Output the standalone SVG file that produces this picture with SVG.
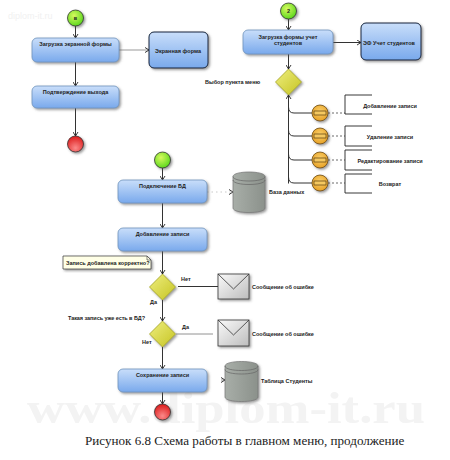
<svg xmlns="http://www.w3.org/2000/svg" width="450" height="460" viewBox="0 0 450 460">
<style>
text{font-family:"Liberation Sans",Arial,sans-serif;font-size:5.5px;font-weight:bold;fill:#222}
.m{text-anchor:middle}
.box{fill:url(#blue);stroke:#6f93bd;stroke-width:.8;filter:url(#sh)}
.box2{fill:url(#blue);stroke:#14233c;stroke-width:1;filter:url(#sh)}
.ln{fill:none;stroke:#333;stroke-width:1}
.dash{fill:none;stroke:#444;stroke-width:.8;stroke-dasharray:2 2}
.br{fill:none;stroke:#222;stroke-width:.9}
.start{fill:url(#green);stroke:#333;stroke-width:.8;filter:url(#sh)}
.end{fill:url(#red);stroke:#333;stroke-width:.8;filter:url(#sh)}
.dia{fill:url(#yellow);stroke:#a5a520;stroke-width:.8;filter:url(#sh)}
.or{fill:url(#orange);stroke:#6b4a10;stroke-width:.8;filter:url(#sh)}
.env{fill:url(#gray);stroke:#333;stroke-width:.8;filter:url(#sh)}
.db{fill:url(#dbg);stroke:#777;stroke-width:.7;filter:url(#sh)}
.wm{font-family:"Liberation Serif",serif;font-weight:bold;font-size:44px;fill:#f3f3f3}
.cap{font-family:"Liberation Serif",serif;font-weight:normal;font-size:13.1px;fill:#222}
</style>
<defs>
<linearGradient id="blue" x1="0" y1="0" x2="0" y2="1"><stop offset="0" stop-color="#c9defa"/><stop offset="1" stop-color="#79a9ec"/></linearGradient>
<radialGradient id="green" cx=".4" cy=".35" r=".7"><stop offset="0" stop-color="#d6f95e"/><stop offset="1" stop-color="#55d61a"/></radialGradient>
<radialGradient id="red" cx=".5" cy=".75" r=".7"><stop offset="0" stop-color="#fb8a8a"/><stop offset="1" stop-color="#de2020"/></radialGradient>
<linearGradient id="yellow" x1="0" y1="0" x2="1" y2="1"><stop offset="0" stop-color="#eeee80"/><stop offset="1" stop-color="#c6c422"/></linearGradient>
<radialGradient id="orange" cx=".5" cy=".4" r=".7"><stop offset="0" stop-color="#fbd06a"/><stop offset="1" stop-color="#e49a1c"/></radialGradient>
<linearGradient id="gray" x1="0" y1="0" x2="1" y2="1"><stop offset="0" stop-color="#fafafa"/><stop offset="1" stop-color="#bdbdbd"/></linearGradient>
<linearGradient id="dbg" x1="0" y1="0" x2="1" y2="0"><stop offset="0" stop-color="#a8aea8"/><stop offset="1" stop-color="#8b918b"/></linearGradient>
<filter id="sh" x="-20%" y="-20%" width="150%" height="150%"><feDropShadow dx="1.5" dy="1.5" stdDeviation=".8" flood-color="#555" flood-opacity=".6"/></filter>
<marker id="a" markerWidth="5" markerHeight="6" refX="4.5" refY="3" orient="auto" markerUnits="userSpaceOnUse"><path d="M0.5 0.5L4.5 3L0.5 5.5" fill="none" stroke="#222" stroke-width=".9"/></marker>
</defs>

<text x="8" y="19" style="font-size:9px;font-weight:normal;fill:#f1f1f1">diplom-it.ru</text>
<text x="27" y="423" class="wm" textLength="398" lengthAdjust="spacingAndGlyphs">www.diplom-it.ru</text>

<g id="connectors">
<path class="ln" d="M75.500 26V38" marker-end="url(#a)"/>
<path class="ln" d="M75.500 62V86" marker-end="url(#a)"/>
<path class="ln" d="M75.500 108V136" marker-end="url(#a)"/>
<path d="M119 50H149" fill="none" stroke="#999" stroke-width="1" marker-end="url(#a)"/>
<path class="ln" d="M288.500 19V30" marker-end="url(#a)"/>
<path class="ln" d="M288.500 54V69" marker-end="url(#a)"/>
<path class="ln" d="M333 42.500H361" marker-end="url(#a)"/>
<path class="ln" d="M288.500 183.500V95" marker-end="url(#a)"/>
<path class="ln" d="M288.500 107Q288.500 113 294 113H312M288.500 130Q288.500 136 294 136H312M288.500 154Q288.500 160 294 160H312M288.500 177Q288.500 183 294 183H312"/>
<path class="dash" d="M328 113H345M328 136H345M328 160H345M328 183H345"/>
<path class="ln" d="M162.500 168V180" marker-end="url(#a)"/>
<path class="ln" d="M162.500 203V228" marker-end="url(#a)"/>
<path class="ln" d="M162.500 251V274" marker-end="url(#a)"/>
<path class="ln" d="M162.500 300V321" marker-end="url(#a)"/>
<path class="ln" d="M162.500 347V369" marker-end="url(#a)"/>
<path class="ln" d="M162.500 391V404" marker-end="url(#a)"/>
<path d="M207 192H233" fill="none" stroke="#bbb" stroke-width=".8" stroke-dasharray="1.500 3" marker-end="url(#a)"/>
<path class="ln" d="M178 286.500H218"/>
<path d="M176 334H213" fill="none" stroke="#777" stroke-width=".8"/>
<path d="M221 380H225" fill="none" stroke="#666" stroke-width=".7" marker-end="url(#a)"/>
</g>

<g id="start1"><circle class="start" cx="75.500" cy="18" r="8"/><text x="75.500" y="20" class="m">в</text></g>
<g id="load-form"><rect class="box" x="32" y="38" width="87" height="24" rx="5"/><text x="75.500" y="46" class="m">Загрузка экранной формы</text></g>
<g id="screen-form"><rect class="box2" x="149" y="32" width="59" height="36" rx="5"/><text x="178" y="53" class="m">Экранная форма</text></g>
<g id="confirm"><rect class="box" x="32" y="86" width="87" height="22" rx="5"/><text x="75.500" y="93.500" class="m">Подтверждение выхода</text></g>
<g id="end1"><circle class="end" cx="75.500" cy="144" r="8"/></g>

<g id="start2"><circle class="start" cx="288.500" cy="11" r="8"/><text x="288.500" y="13" class="m">2</text></g>
<g id="load-students"><rect class="box" x="243" y="30" width="90" height="24" rx="5"/><text x="288" y="38.500" class="m">Загрузка формы учет</text><text x="288" y="45" class="m">студентов</text></g>
<g id="students-form"><rect class="box2" x="361" y="23" width="60" height="37" rx="5"/><text x="389" y="44.500" class="m">ЭФ  Учет студентов</text></g>
<g id="menu"><polygon class="dia" points="288.500,69 301.500,82 288.500,95 275.500,82"/><text x="205" y="84">Выбор пункта меню</text></g>

<g id="add"><circle class="or" cx="320" cy="113" r="8"/><rect x="314" y="111" width="12" height="4" fill="#f5c860" stroke="#5a3d0c" stroke-width=".7"/><path class="br" d="M372 95H345V114H372"/><text x="390" y="108" class="m">Добавление записи</text></g>
<g id="delete"><circle class="or" cx="320" cy="136" r="8"/><rect x="314" y="134" width="12" height="4" fill="#f5c860" stroke="#5a3d0c" stroke-width=".7"/><path class="br" d="M372 126H345V146H372"/><text x="390" y="139" class="m">Удаление записи</text></g>
<g id="edit"><circle class="or" cx="320" cy="160" r="8"/><rect x="314" y="158" width="12" height="4" fill="#f5c860" stroke="#5a3d0c" stroke-width=".7"/><path class="br" d="M372 150H345V170H372"/><text x="390" y="163" class="m">Редактирование записи</text></g>
<g id="back"><circle class="or" cx="320" cy="183" r="8"/><rect x="314" y="181" width="12" height="4" fill="#f5c860" stroke="#5a3d0c" stroke-width=".7"/><path class="br" d="M372 174H345V193H372"/><text x="390" y="186" class="m">Возврат</text></g>

<g id="start3"><circle class="start" cx="162.500" cy="160" r="8"/></g>
<g id="connect"><rect class="box" x="118" y="180" width="89" height="23" rx="5"/><text x="162.500" y="188" class="m">Подключение БД</text></g>
<g id="db"><path class="db" d="M233 176.500C233 170.500 265 170.500 265 176.500V208C265 214 233 214 233 208Z"/><path d="M233 176.500C233 182.500 265 182.500 265 176.500M233 180C233 186 265 186 265 180" fill="none" stroke="#666" stroke-width=".7"/><text x="269" y="194">База данных</text></g>
<g id="add-record"><rect class="box" x="118" y="228" width="89" height="23" rx="5"/><text x="162.500" y="235.500" class="m">Добавление записи</text></g>
<g id="note"><path d="M63 256H147L151 260V269H63Z" fill="#ffffe6" stroke="#333" stroke-width=".7" filter="url(#sh)"/><path d="M147 256V260H151" fill="none" stroke="#333" stroke-width=".6"/><text x="66" y="265">Запись добавлена корректно?</text></g>
<g id="check1"><polygon class="dia" points="162.500,274 175.500,287 162.500,300 149.500,287"/><text x="181" y="281">Нет</text><text x="150" y="304">Да</text></g>
<g id="err1"><rect class="env" x="218" y="274" width="31" height="25"/><path d="M218 274L233.500 289L249 274" fill="none" stroke="#333" stroke-width=".8"/><text x="252" y="289">Сообщение об ошибке</text></g>
<g id="check2"><polygon class="dia" points="162.500,321 175.500,334 162.500,347 149.500,334"/><text x="68" y="320" textLength="77">Такая запись уже есть в БД?</text><text x="182" y="329">Да</text><text x="142" y="344">Нет</text></g>
<g id="err2"><rect class="env" x="218" y="320" width="31" height="26"/><path d="M218 320L233.500 335L249 320" fill="none" stroke="#333" stroke-width=".8"/><text x="252" y="336">Сообщение об ошибке</text></g>
<g id="save"><rect class="box" x="118" y="369" width="89" height="23" rx="5"/><text x="162.500" y="377" class="m">Сохранение записи</text></g>
<g id="students-table"><path class="db" d="M225 366C225 360 258 360 258 366V397C258 403 225 403 225 397Z"/><path d="M225 366C225 372 258 372 258 366M225 369.500C225 375.500 258 375.500 258 369.500" fill="none" stroke="#666" stroke-width=".7"/><text x="261" y="383">Таблица Студенты</text></g>
<g id="end3"><circle class="end" cx="162.500" cy="412" r="8"/></g>
<text x="85" y="445" class="cap">Рисунок 6.8 Схема работы в главном меню, продолжение</text>
</svg>
